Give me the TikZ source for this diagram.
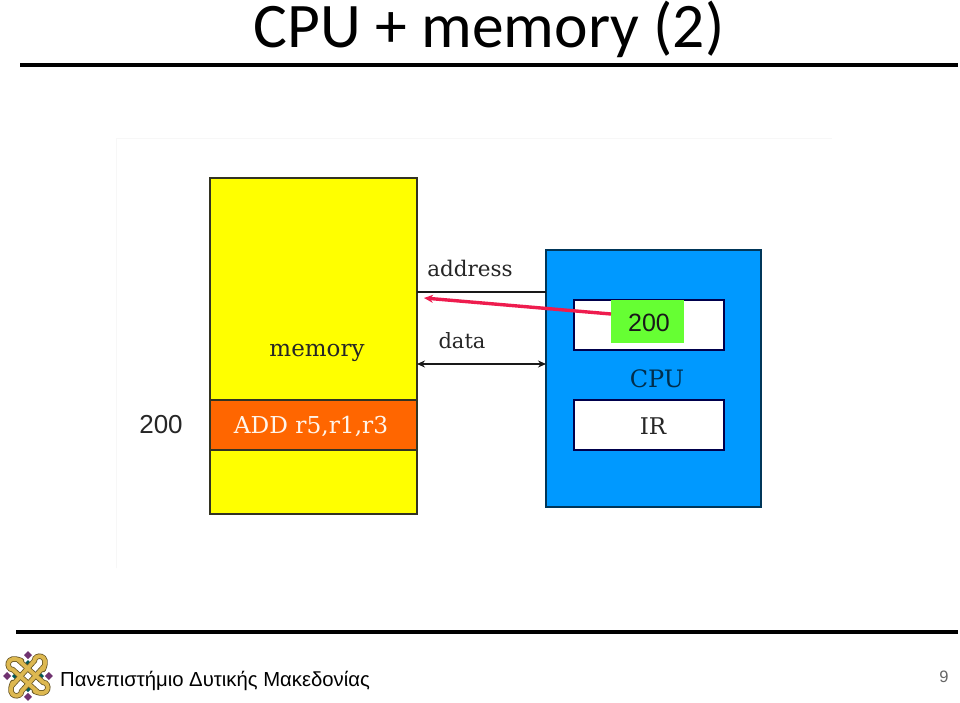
\documentclass[tikz,border=0pt]{standalone}
\usepackage{fontspec}
\setmainfont{Liberation Sans}
\newfontfamily\titlefont{Carlito}
\newfontfamily\figfont{DejaVu Serif}
\usetikzlibrary{arrows.meta}
\definecolor{memyellow}{HTML}{FFFF00}
\definecolor{addorange}{HTML}{FF6600}
\definecolor{cpublue}{HTML}{0099FF}
\definecolor{pcgreen}{HTML}{66FF33}
\definecolor{arrowred}{HTML}{EE1C4E}
\definecolor{boxedge}{HTML}{333322}
\definecolor{knotgold}{HTML}{DDB850}
\definecolor{knotdark}{HTML}{6A5826}
\tikzset{
  x=1pt,y=-1pt,
  rulebar/.style={line width=3.6pt,black},
  membox/.style={draw=boxedge,line width=1.3pt,anchor=north west,inner sep=0pt,outer sep=0pt},
  figtext/.style={text=black!85,inner sep=0pt},
  bus/.style={line width=2.2pt,black!90},
}
\begin{document}
\begin{tikzpicture}
\useasboundingbox (0,0) rectangle (960,703);
\fill[white] (0,0) rectangle (960,703);
\draw[black!3,line width=.8pt] (116,568) -- (116,138) -- (832,138);
\node[font=\titlefont\fontsize{63.5}{70}\selectfont,inner sep=0pt,anchor=base] (title) at (489,48) {CPU + memory (2)};
\coordinate (r1a) at (20,65); \coordinate (r1b) at (958,65);
\draw[rulebar] (r1a) -- (r1b);
\node[membox,fill=memyellow,minimum width=207pt,minimum height=336pt] (mem) at (210,178) {};
\node[membox,fill=addorange,minimum width=207pt,minimum height=50pt] (add) at (210,400) {};
\node[figtext,font=\figfont\fontsize{23}{26}\selectfont] (memlabel) at (317,353) {memory};
\node[figtext,text=white!92!orange,font=\figfont\fontsize{23.3}{26}\selectfont] (addlabel) at (311,426) {ADD r5,r1,r3};
\node[font=\fontsize{26}{28}\selectfont,text=black!85,inner sep=0pt] (a200) at (161,425) {200};
\node[membox,fill=cpublue,draw=black!65!cpublue,minimum width=215pt,minimum height=257pt] (cpu) at (546,250) {};
\node[membox,fill=white,draw=black!70!blue,minimum width=150pt,minimum height=50pt] (pc) at (574,300) {};
\node[fill=pcgreen,minimum width=73pt,minimum height=43pt,inner sep=0pt,anchor=north west] (pcv) at (611,300) {};
\node[font=\fontsize{25}{28}\selectfont,text=black!90,inner sep=0pt] (v200) at (649,323) {200};
\node[figtext,text=black!70!cpublue,font=\figfont\fontsize{24}{26}\selectfont] (cpulabel) at (657,379) {CPU};
\node[membox,fill=white,draw=black!70!blue,minimum width=150pt,minimum height=50pt] (ir) at (574,400) {};
\node[figtext,font=\figfont\fontsize{23}{26}\selectfont] (irlabel) at (653,426) {IR};
\node[figtext,font=\figfont\fontsize{21.5}{26}\selectfont] (addrlabel) at (470,268) {address};
\node[figtext,font=\figfont\fontsize{21}{26}\selectfont] (datalabel) at (462,341) {data};
\coordinate (ay) at (0,292); \coordinate (dy) at (0,364);
\draw[bus] (mem.east |- ay) -- (cpu.west |- ay);
\draw[bus,{Stealth[length=8pt,width=7pt]}-{Stealth[length=8pt,width=7pt]}] (mem.east |- dy) -- (cpu.west |- dy);
\coordinate (redtip) at (424,298);
\draw[arrowred,line width=3.4pt,-{Stealth[length=9pt,width=8pt]}] (pcv.west |- 0,314) -- (redtip);
\coordinate (r2a) at (16,632); \coordinate (r2b) at (958,632);
\draw[rulebar] (r2a) -- (r2b);
\node[font=\fontsize{20.3}{26}\selectfont,anchor=base west,inner sep=0pt] (uni) at (60,686) {Πανεπιστήμιο Δυτικής Μακεδονίας};
\node[font=\fontsize{16.5}{20}\selectfont,text=black!60,inner sep=0pt] (page) at (944,677) {9};
\begin{scope}[shift={(28,676)},scale=.8]
  \foreach \a in {0,90,180,270}{
    \fill[rotate=\a,fill=violet!60!black!80] (21,0) -- (26,5) -- (31,0) -- (26,-5) -- cycle;
    \fill[rotate=\a,fill=teal!70!black] (6,0) -- (13,7) -- (20,0) -- (13,-7) -- cycle;
  }
  \foreach \a in {0,90,180,270}{
    \draw[rotate=\a,knotdark,line width=5.4pt,line cap=round] (-8,-19) .. controls (-28,-28) and (-28,-8) .. (-19,-8) -- (12,20);
  }
  \foreach \a in {0,90,180,270}{
    \draw[rotate=\a,knotgold,line width=3.8pt,line cap=round] (-8,-19) .. controls (-28,-28) and (-28,-8) .. (-19,-8) -- (12,20);
  }
\end{scope}
\end{tikzpicture}
\end{document}
